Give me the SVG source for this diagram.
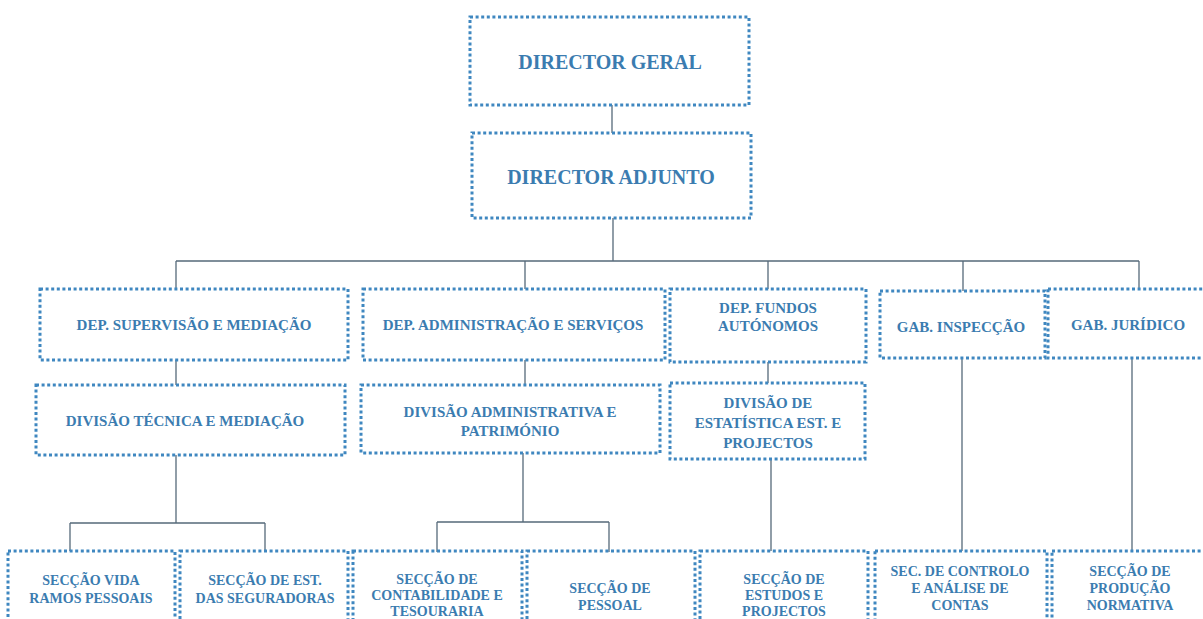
<svg xmlns="http://www.w3.org/2000/svg" width="1203" height="619" viewBox="0 0 1203 619">
<style>
.box{fill:none;stroke:#3f87c0;stroke-width:3;stroke-dasharray:3 2.6}
.t{font-weight:bold;fill:#3b7cb0;text-anchor:middle}
.big{font-size:20px}
.m{font-size:15px}
.s{font-size:14px}
.c{fill:none;stroke:#566a7a;stroke-width:1.3}
</style>
<rect width="1203" height="619" fill="#ffffff"/>
<g id="connectors">
<path class="c" d="M612 105V133M613 218V261M176 261H1139M176 261V289M525 261V289M768 261V289M963 261V291M1139 261V289"/>
<path class="c" d="M176 360V385M525 360V385M768 362V383"/>
<path class="c" d="M176 455V523M70 523H265M70 523V551M265 523V551"/>
<path class="c" d="M523 453V522M437 522H609M437 522V552M609 522V552"/>
<path class="c" d="M771 459V551M962 358V551M1132 358V551"/>
</g>
<g font-family="Liberation Serif, DejaVu Serif, serif">
<g id="n1"><rect class="box" x="470" y="17" width="279" height="88"/><text class="t big" x="610" y="69">DIRECTOR GERAL</text></g>
<g id="n2"><rect class="box" x="472" y="133" width="279" height="85"/><text class="t big" x="611" y="184">DIRECTOR ADJUNTO</text></g>
<g id="n3"><rect class="box" x="40" y="289" width="308" height="71"/><text class="t m" x="194" y="330">DEP. SUPERVISÃO E MEDIAÇÃO</text></g>
<g id="n4"><rect class="box" x="363" y="289" width="302" height="71"/><text class="t m" x="513" y="330">DEP. ADMINISTRAÇÃO E SERVIÇOS</text></g>
<g id="n5"><rect class="box" x="670" y="289" width="196" height="73"/><text class="t m" x="768" y="313">DEP. FUNDOS</text><text class="t m" x="768" y="331">AUTÓNOMOS</text></g>
<g id="n6"><rect class="box" x="880" y="291" width="165" height="67"/><text class="t m" x="961" y="332">GAB. INSPECÇÃO</text></g>
<g id="n7"><rect class="box" x="1048" y="289" width="165" height="69"/><text class="t m" x="1128" y="330">GAB. JURÍDICO</text></g>
<g id="n8"><rect class="box" x="36" y="385" width="309" height="70"/><text class="t m" x="185" y="426">DIVISÃO TÉCNICA E MEDIAÇÃO</text></g>
<g id="n9"><rect class="box" x="361" y="385" width="299" height="68"/><text class="t m" x="510" y="417">DIVISÃO ADMINISTRATIVA  E</text><text class="t m" x="510" y="436">PATRIMÓNIO</text></g>
<g id="n10"><rect class="box" x="670" y="383" width="195" height="76"/><text class="t m" x="768" y="408">DIVISÃO DE</text><text class="t m" x="768" y="428">ESTATÍSTICA EST. E</text><text class="t m" x="768" y="448">PROJECTOS</text></g>
<g id="n11"><rect class="box" x="8" y="551" width="167" height="90"/><text class="t s" x="91" y="585">SECÇÃO VIDA</text><text class="t s" x="91" y="603">RAMOS PESSOAIS</text></g>
<g id="n12"><rect class="box" x="180" y="551" width="168" height="90"/><text class="t s" x="265" y="585">SECÇÃO DE EST.</text><text class="t s" x="265" y="603">DAS SEGURADORAS</text></g>
<g id="n13"><rect class="box" x="353" y="551" width="169" height="90"/><text class="t s" x="437" y="584">SECÇÃO DE</text><text class="t s" x="437" y="600">CONTABILIDADE E</text><text class="t s" x="437" y="616">TESOURARIA</text></g>
<g id="n14"><rect class="box" x="527" y="551" width="168" height="90"/><text class="t s" x="610" y="593">SECÇÃO DE</text><text class="t s" x="610" y="610">PESSOAL</text></g>
<g id="n15"><rect class="box" x="700" y="551" width="168" height="90"/><text class="t s" x="784" y="584">SECÇÃO DE</text><text class="t s" x="784" y="600">ESTUDOS E</text><text class="t s" x="784" y="616">PROJECTOS</text></g>
<g id="n16"><rect class="box" x="875" y="551" width="172" height="90"/><text class="t s" x="960" y="576">SEC. DE CONTROLO</text><text class="t s" x="960" y="593">E ANÁLISE DE</text><text class="t s" x="960" y="610">CONTAS</text></g>
<g id="n17"><rect class="box" x="1052" y="551" width="170" height="90"/><text class="t s" x="1130" y="576">SECÇÃO DE</text><text class="t s" x="1130" y="593">PRODUÇÃO</text><text class="t s" x="1130" y="610">NORMATIVA</text></g>
</g>
</svg>
